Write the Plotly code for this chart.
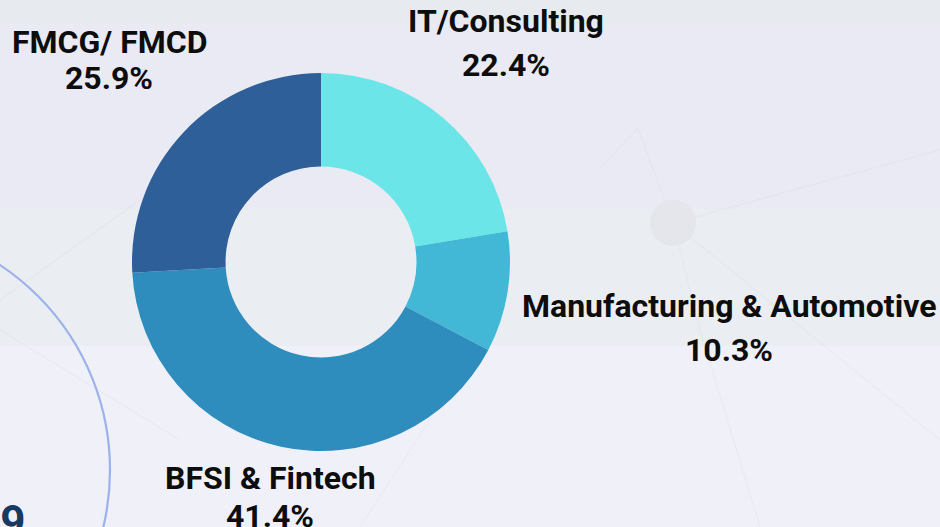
import plotly.graph_objects as go

# Data
sectors = ["IT/Consulting", "Manufacturing & Automotive", "BFSI & Fintech", "FMCG/ FMCD"]
shares = [22.4, 10.3, 41.4, 25.9]
colors = ["#6be5e8", "#43b7d6", "#2e8dbd", "#2e5f98"]

W, H = 940, 527

fig = go.Figure()

cx, cy, R = 321, 262, 189
fig.add_trace(go.Pie(
    labels=sectors,
    values=shares,
    sort=False,
    direction="clockwise",
    rotation=0,
    hole=0.505,
    marker=dict(colors=colors, line=dict(width=0)),
    textinfo="none",
    hoverinfo="label+percent",
    showlegend=False,
    domain=dict(x=[(cx - R) / W, (cx + R) / W], y=[(H - cy - R) / H, (H - cy + R) / H]),
))

shapes = []
# background bands (pixel rows from top)
bands = [(0, 24, "#e7eaee"), (24, 209, "#e9eaf3"), (209, 346, "#eaeef3"), (346, 527, "#eff0f8")]
for y0, y1, c in bands:
    shapes.append(dict(type="rect", xref="paper", yref="paper", x0=0, x1=1,
                       y0=1 - y1 / H, y1=1 - y0 / H, fillcolor=c, line=dict(width=0), layer="below"))

def px(x):
    return x / W

def py(y):
    return 1 - y / H

# faint network lines
net_lines = [
    ((673, 223), (940, 150)),
    ((673, 223), (940, 440)),
    ((673, 223), (638, 128)),
    ((673, 223), (700, 330)),
    ((638, 128), (600, 168)),
    ((700, 330), (760, 527)),
    ((0, 300), (140, 200)),
    ((0, 330), (180, 440)),
    ((360, 527), (430, 420)),
]
for (x0, y0), (x1, y1) in net_lines:
    shapes.append(dict(type="line", xref="paper", yref="paper", x0=px(x0), y0=py(y0), x1=px(x1), y1=py(y1),
                       line=dict(color="rgba(200,200,215,0.14)", width=1.2), layer="below"))
# node
shapes.append(dict(type="circle", xref="paper", yref="paper", x0=px(650), x1=px(696), y0=py(246), y1=py(200),
                   fillcolor="#e4e6ec", line=dict(width=0), layer="below"))
# big arc on the left
acx, acy, ar = -136, 470, 246
shapes.append(dict(type="circle", xref="paper", yref="paper", x0=px(acx - ar), x1=px(acx + ar),
                   y0=py(acy + ar), y1=py(acy - ar), line=dict(color="#9db2ea", width=2.2), layer="below"))

annotations = []
font = dict(family="Roboto, Arial, sans-serif", size=32, color="#0d0d0d")
label_pos = {
    "IT/Consulting": ((506, 21), (506, 65)),
    "Manufacturing & Automotive": ((729, 306), (729, 350)),
    "BFSI & Fintech": ((270, 478), (270, 516)),
    "FMCG/ FMCD": ((109, 42), (109, 78)),
}
for name, val in zip(sectors, shares):
    (x1, y1), (x2, y2) = label_pos[name]
    annotations.append(dict(text=f"<b>{name}</b>", x=px(x1), y=py(y1), xref="paper", yref="paper",
                            xanchor="center", yanchor="middle", showarrow=False, font=font))
    annotations.append(dict(text=f"<b>{val:.1f}%</b>", x=px(x2), y=py(y2), xref="paper", yref="paper",
                            xanchor="center", yanchor="middle", showarrow=False, font=font))

annotations.append(dict(text="<b>49</b>", x=px(28), y=py(522), xref="paper", yref="paper",
                        xanchor="right", yanchor="middle", showarrow=False,
                        font=dict(family="Roboto, Arial, sans-serif", size=44, color="#173a63")))

fig.update_layout(
    width=W, height=H,
    margin=dict(l=0, r=0, t=0, b=0),
    paper_bgcolor="#eceef4",
    plot_bgcolor="rgba(0,0,0,0)",
    shapes=shapes,
    annotations=annotations,
)

fig.write_html("out.html", config={"displayModeBar": False},
               post_script="document.body.style.margin='0px';document.body.style.overflow='hidden';")
